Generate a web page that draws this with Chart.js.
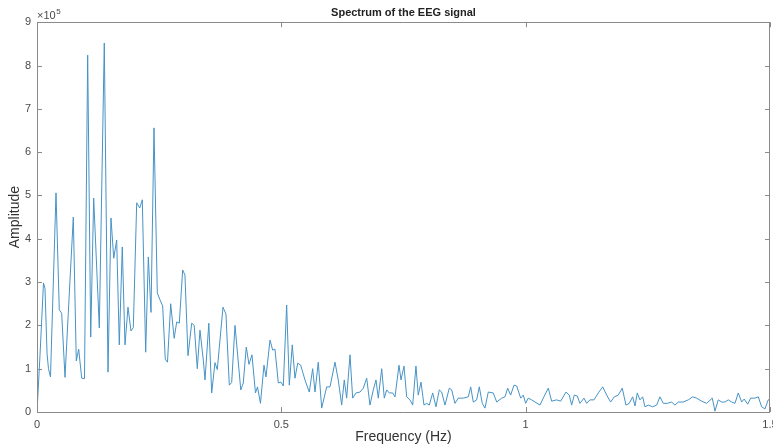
<!DOCTYPE html>
<html>
<head>
<meta charset="utf-8">
<script src="https://cdn.jsdelivr.net/npm/chart.js@4/dist/chart.umd.min.js"></script>
<style>
  html, body { margin: 0; padding: 0; background: #fff; overflow: hidden; }
  #wrap { width: 773px; height: 448px; }
</style>
</head>
<body>
<div id="wrap"><canvas id="spec" width="773" height="448"></canvas></div>
<script>
// frequency (Hz) of each vertex
var freq = [
  0.0000, 0.0061, 0.0133, 0.0164, 0.0205, 0.0235, 0.0276, 0.0389, 0.0456, 0.0505,
  0.0573, 0.0640, 0.0743, 0.0804, 0.0853, 0.0915, 0.0972, 0.1037, 0.1099, 0.1160,
  0.1275, 0.1377, 0.1453, 0.1514, 0.1570, 0.1631, 0.1684, 0.1745, 0.1801, 0.1862,
  0.1923, 0.1971, 0.2040, 0.2102, 0.2155, 0.2224, 0.2278, 0.2333, 0.2394, 0.2462,
  0.2517, 0.2572, 0.2625, 0.2670, 0.2736, 0.2807, 0.2859, 0.2912, 0.2981, 0.3028,
  0.3090, 0.3166, 0.3217, 0.3280, 0.3335, 0.3403, 0.3438, 0.3516, 0.3575, 0.3642,
  0.3689, 0.3806, 0.3867, 0.3935, 0.3984, 0.4052, 0.4170, 0.4221, 0.4283, 0.4338,
  0.4399, 0.4471, 0.4512, 0.4573, 0.4645, 0.4686, 0.4768, 0.4823, 0.4870, 0.4938,
  0.4993, 0.5040, 0.5109, 0.5163, 0.5224, 0.5279, 0.5335, 0.5396, 0.5484, 0.5572,
  0.5641, 0.5689, 0.5756, 0.5826, 0.5928, 0.5996, 0.6098, 0.6165, 0.6235, 0.6288,
  0.6337, 0.6405, 0.6460, 0.6528, 0.6609, 0.6677, 0.6747, 0.6814, 0.6882, 0.6937,
  0.6984, 0.7054, 0.7107, 0.7156, 0.7209, 0.7279, 0.7326, 0.7408, 0.7449, 0.7510,
  0.7565, 0.7633, 0.7688, 0.7755, 0.7802, 0.7858, 0.7919, 0.7974, 0.8028, 0.8097,
  0.8165, 0.8232, 0.8281, 0.8349, 0.8437, 0.8486, 0.8553, 0.8621, 0.8723, 0.8826,
  0.8875, 0.8928, 0.8997, 0.9051, 0.9112, 0.9167, 0.9235, 0.9337, 0.9407, 0.9509,
  0.9577, 0.9632, 0.9693, 0.9761, 0.9816, 0.9898, 0.9951, 1.0000, 1.0053, 1.0123,
  1.0190, 1.0293, 1.0360, 1.0463, 1.0532, 1.0634, 1.0716, 1.0825, 1.0892, 1.0941,
  1.0995, 1.1056, 1.1111, 1.1193, 1.1248, 1.1316, 1.1398, 1.1486, 1.1576, 1.1658,
  1.1739, 1.1813, 1.1895, 1.1977, 1.2052, 1.2120, 1.2190, 1.2237, 1.2284, 1.2339,
  1.2394, 1.2441, 1.2509, 1.2599, 1.2681, 1.2748, 1.2816, 1.2898, 1.2988, 1.3055,
  1.3123, 1.3225, 1.3327, 1.3417, 1.3499, 1.3602, 1.3704, 1.3819, 1.3874, 1.3941,
  1.4011, 1.4078, 1.4146, 1.4215, 1.4283, 1.4351, 1.4420, 1.4473, 1.4543, 1.4604,
  1.4692, 1.4760, 1.4829, 1.4897, 1.4964, 1.5000
];

// amplitude, in units of 1e5
var amp = [
  0.00, 1.30, 2.98, 2.85, 1.36, 1.00, 0.81, 5.06, 2.36, 2.28,
  0.80, 2.28, 4.50, 1.18, 1.45, 0.78, 0.77, 8.24, 1.73, 4.94,
  1.94, 8.52, 0.92, 4.48, 3.55, 3.97, 1.55, 3.81, 1.55, 2.42,
  1.87, 1.95, 4.83, 4.71, 4.90, 1.38, 3.58, 2.30, 6.56, 2.75,
  2.59, 2.45, 1.22, 1.15, 2.50, 1.70, 2.08, 2.05, 3.28, 3.16,
  1.30, 2.05, 2.00, 1.00, 1.89, 1.20, 0.74, 2.05, 0.44, 1.14,
  0.98, 2.42, 2.26, 0.62, 0.68, 2.00, 0.51, 0.67, 1.50, 1.10,
  1.32, 0.44, 0.58, 0.20, 1.08, 0.81, 1.66, 1.43, 1.45, 0.67,
  0.69, 0.60, 2.47, 0.62, 1.55, 0.78, 1.13, 1.08, 0.74, 0.46,
  1.00, 0.46, 1.15, 0.09, 0.58, 0.58, 1.15, 0.74, 0.16, 0.74,
  0.32, 1.32, 0.32, 0.44, 0.46, 0.55, 0.78, 0.16, 0.51, 0.74,
  0.32, 1.00, 0.32, 0.51, 0.44, 0.44, 0.35, 1.08, 0.74, 1.06,
  0.35, 0.28, 0.16, 1.06, 0.39, 0.69, 0.16, 0.20, 0.16, 0.44,
  0.12, 0.51, 0.46, 0.16, 0.55, 0.51, 0.20, 0.32, 0.32, 0.35,
  0.58, 0.23, 0.28, 0.58, 0.20, 0.09, 0.46, 0.44, 0.23, 0.32,
  0.35, 0.55, 0.39, 0.62, 0.60, 0.32, 0.39, 0.20, 0.32, 0.28,
  0.23, 0.16, 0.32, 0.55, 0.25, 0.28, 0.25, 0.46, 0.39, 0.16,
  0.39, 0.37, 0.20, 0.32, 0.20, 0.28, 0.28, 0.44, 0.58, 0.39,
  0.23, 0.35, 0.39, 0.55, 0.16, 0.20, 0.35, 0.14, 0.44, 0.28,
  0.35, 0.12, 0.16, 0.12, 0.16, 0.35, 0.20, 0.20, 0.23, 0.16,
  0.23, 0.23, 0.28, 0.35, 0.32, 0.25, 0.20, 0.32, 0.02, 0.28,
  0.23, 0.23, 0.28, 0.23, 0.20, 0.44, 0.23, 0.30, 0.18, 0.32,
  0.32, 0.35, 0.12, 0.07, 0.28, 0.30
];

var SCALE = 1e5;
var xTicks = [0, 0.5, 1, 1.5];

var axisGray = '#8a8a8a';
var textGray = '#4a4a4a';
var fontFam = '"Liberation Sans", Arial, Helvetica, sans-serif';

var points = freq.map(function (f, i) { return { x: f, y: amp[i] * SCALE }; });

// matlab-like box with inward ticks and the x10^5 multiplier
var boxPlugin = {
  id: 'matBox',
  afterDraw: function (chart) {
    var c = chart.ctx, a = chart.chartArea;
    var xs = chart.scales.x, ys = chart.scales.y;
    var tl = 5;
    c.save();
    c.strokeStyle = axisGray;
    c.lineWidth = 1;
    c.beginPath();
    c.rect(Math.round(a.left) + 0.5, Math.round(a.top) + 0.5,
      Math.round(a.right - a.left) - 1, Math.round(a.bottom - a.top));
    xs.ticks.forEach(function (t) {
      var px = Math.round(xs.getPixelForValue(t.value)) + 0.5;
      c.moveTo(px, a.bottom); c.lineTo(px, a.bottom - tl);
      c.moveTo(px, a.top); c.lineTo(px, a.top + tl);
    });
    ys.ticks.forEach(function (t) {
      var py = Math.round(ys.getPixelForValue(t.value)) + 0.5;
      c.moveTo(a.left, py); c.lineTo(a.left + tl, py);
      c.moveTo(a.right, py); c.lineTo(a.right - tl, py);
    });
    c.stroke();

    c.fillStyle = textGray;
    c.textBaseline = 'alphabetic';
    c.textAlign = 'left';
    c.font = '11px ' + fontFam;
    var bx = a.left, by = a.top - 3;
    c.fillText('\u00d710', bx, by);
    var w = c.measureText('\u00d710').width;
    c.font = '8px ' + fontFam;
    c.fillText('5', bx + w + 0.5, by - 5);
    c.restore();
  }
};

var config = {
  type: 'line',
  data: {
    datasets: [{
      label: 'Spectrum',
      data: points,
      borderColor: '#4793c6',
      borderWidth: 1,
      pointRadius: 0,
      fill: false,
      tension: 0
    }]
  },
  options: {
    responsive: false,
    animation: false,
    layout: {
      padding: { left: 0, right: 3, top: 0, bottom: 0 }
    },
    plugins: {
      legend: { display: false },
      tooltip: { enabled: false },
      title: {
        display: true,
        text: 'Spectrum of the EEG signal',
        fullSize: false,
        color: '#222',
        font: { family: fontFam, size: 11, weight: 'bold' },
        padding: { top: 6, bottom: 3 }
      }
    },
    scales: {
      x: {
        type: 'linear',
        min: 0,
        max: 1.5,
        grid: { display: false, drawTicks: false },
        border: { display: false },
        afterBuildTicks: function (s) {
          s.ticks = xTicks.map(function (v) { return { value: v }; });
        },
        ticks: {
          color: textGray,
          font: { family: fontFam, size: 11 },
          padding: 6,
          maxRotation: 0,
          autoSkip: false,
          callback: function (v) { return String(v); }
        },
        title: {
          display: true,
          text: 'Frequency (Hz)',
          color: '#333',
          font: { family: fontFam, size: 14 },
          padding: { top: 0, bottom: 2 }
        },
        afterFit: function (s) {
          s.height = 36;
          s.paddingLeft = 0;
          s.paddingRight = 0;
        }
      },
      y: {
        type: 'linear',
        min: 0,
        max: 9 * SCALE,
        grid: { display: false, drawTicks: false },
        border: { display: false },
        ticks: {
          stepSize: SCALE,
          color: textGray,
          font: { family: fontFam, size: 11 },
          padding: 6,
          callback: function (v) { return String(Math.round(v / SCALE)); }
        },
        title: {
          display: true,
          text: 'Amplitude',
          color: '#333',
          font: { family: fontFam, size: 14 },
          padding: { top: 7, bottom: 0 }
        },
        afterFit: function (s) {
          s.width = 37;
          s.paddingTop = 0;
          s.paddingBottom = 0;
        }
      }
    }
  },
  plugins: [boxPlugin]
};

window.onload = function () {
  var ctx = document.getElementById('spec').getContext('2d');
  window.specChart = new Chart(ctx, config);
};
</script>
</body>
</html>
